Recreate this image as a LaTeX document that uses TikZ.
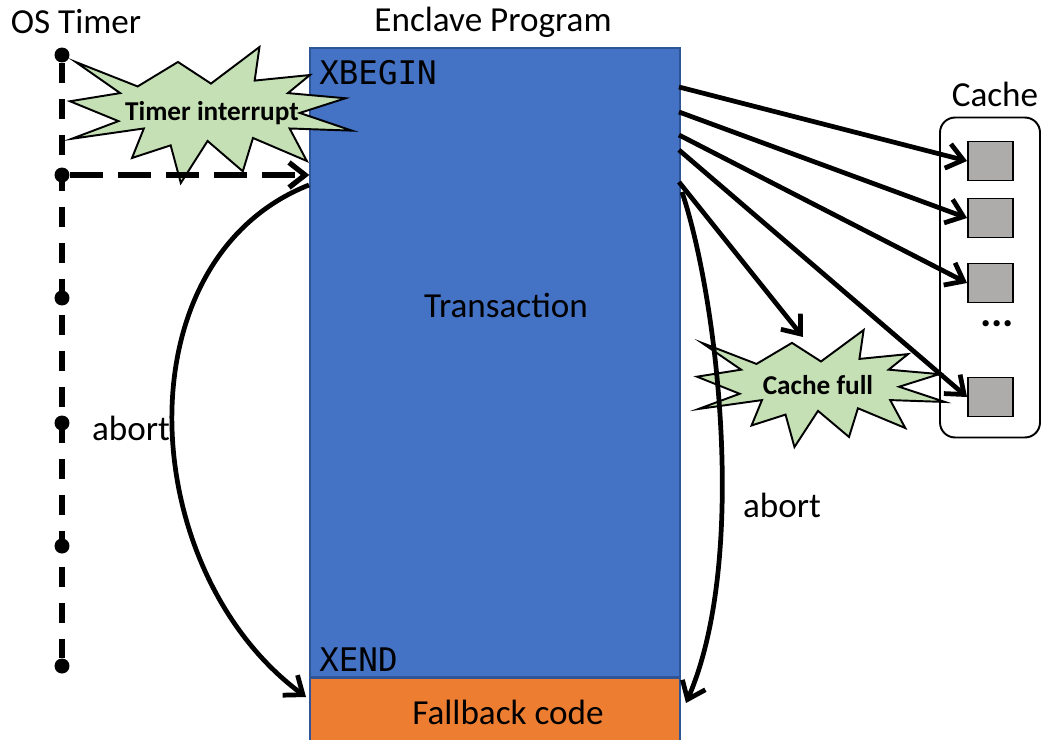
\documentclass[tikz,border=0pt]{standalone}
\usepackage{fontspec}
\setmainfont{Carlito}
\newfontfamily\codefont{DejaVu Sans Mono}
\usetikzlibrary{arrows.meta,positioning}
\definecolor{progblue}{HTML}{4472C4}
\definecolor{progborder}{HTML}{2F5597}
\definecolor{fborange}{HTML}{ED7D31}
\definecolor{bangfill}{HTML}{C5E0B4}
\definecolor{slotgray}{HTML}{AEABAB}
\tikzset{burst/.pic={
  \filldraw[fill=bangfill,line width=1.1pt,line join=miter] (50,26.9) -- (67.2,0) -- (65.5,24.7) -- (85.1,20.6) -- (77.3,33.9) -- (97.7,37.7) -- (81.5,48.5) -- (100,61.5) -- (77.9,59.9) -- (84,83.8) -- (64.9,66.9) -- (61.3,91.4) -- (48.8,69.1) -- (39.3,100) -- (35.7,72.3) -- (22,81.6) -- (26.2,59.9) -- (0.6,67.5) -- (17.2,54.5) -- (0,39.9) -- (17.8,33.9) -- (2,11) -- (24,29) -- (38.3,11) -- cycle;
}}

\begin{document}
\begin{tikzpicture}[x=0.02cm,y=-0.02cm,>={Straight Barb[length=0.32cm,width=0.5cm]},font=\fontsize{20}{24}\selectfont]
  \tikzstyle{block}=[draw=progborder,line width=0.8pt,inner sep=0pt,minimum width=7.4cm]
  \tikzstyle{tick}=[circle,fill,inner sep=0pt,minimum size=0.3cm]
  \tikzstyle{slot}=[draw,fill=slotgray,line width=1.1pt,inner sep=0pt,minimum width=0.9cm,minimum height=0.78cm]
  \tikzstyle{code}=[anchor=west,inner sep=0pt,font=\codefont\fontsize{18.5}{20}\selectfont]
  \tikzstyle{bang}=[inner sep=0pt,font=\bfseries\fontsize{15.5}{18}\selectfont]
  \tikzstyle{link}=[line width=2.7pt,->]
  \useasboundingbox (0,0) rectangle (1045,740);
  \node[block,fill=progblue,minimum height=12.58cm] (prog) at (495,362.5) {};
  \node[block,fill=fborange,minimum height=1.36cm,below=0pt of prog] (fb) {};
  \node (fbtxt) at (508,712) {Fallback code};
  \node (title) at (493,22) {Enclave Program};
  \node (ostimer) at (76,22) {OS Timer};
  \node[code] (xbegin) at (319,73) {XBEGIN};
  \node[code] (xend) at (319,660) {XEND};
  \node (txn) at (506,305) {Transaction};
  \foreach \y [count=\i] in {55,175,298,423,546,666}
    \node[tick] (t\i) at (62,\y) {};
  \draw[line width=3.2pt,dash pattern=on 0.4cm off 0.32cm] (t1) -- (t6);
  \begin{scope}[shift={(70,47)},x=0.0564cm,y=-0.0272cm]
    \pic {burst};
  \end{scope}
  \node[bang] (tint) at (212,113) {Timer interrupt};
  \coordinate (entry) at (t2 -| prog.west);
  \draw[link,line width=3pt,dash pattern=on 0.66cm off 0.3cm] (t2) -- (entry);
  \node[draw,line width=1.1pt,rounded corners=0.3cm,minimum width=2cm,minimum height=6.4cm] (cache) at (990,277.5) {};
  \node (cachelbl) at (995,94) {Cache};
  \node[slot] (c1) at (990.5,161) {};
  \node[slot] (c2) at (990.5,218) {};
  \node[slot] (c3) at (990.5,283) {};
  \node[slot] (c4) at (990.5,397) {};
  \node[font=\bfseries\fontsize{24}{26}\selectfont] (more) at (997,324) {...};
  \begin{scope}[shift={(697,330)},x=0.0496cm,y=-0.0234cm]
    \pic {burst};
  \end{scope}
  \node[bang] (cfull) at (818,385) {Cache full};
  \coordinate (o1) at (679,87);
  \coordinate (o2) at (679,112);
  \coordinate (o3) at (679,135);
  \coordinate (o4) at (679,150);
  \coordinate (o5) at (679,182);
  \coordinate (o6) at (682,192);
  \coordinate (hit) at (803,337);
  \coordinate (il) at (309,185);
  \coordinate (fl) at (306,697);
  \coordinate (fr) at (686,703);
  \draw[link] (o1) -- (c1.west);
  \draw[link] (o2) -- (c2.west);
  \draw[link] (o3) -- (c3.west);
  \draw[link] (o4) -- (c4.west);
  \draw[link] (o5) -- (hit);
  \draw[link] (il) .. controls (120,260) and (135,570) .. (fl);
  \draw[link] (o6) .. controls (718,300) and (748,560) .. (fr);
  \node (abortl) at (131,428) {abort};
  \node (abortr) at (782,505) {abort};
\end{tikzpicture}
\end{document}
